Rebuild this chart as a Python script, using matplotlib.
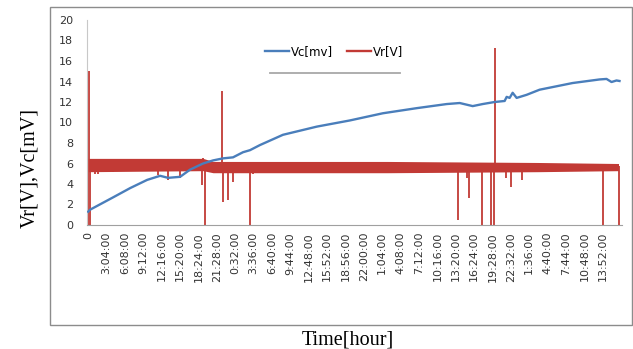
import matplotlib
matplotlib.use("Agg")
import matplotlib.pyplot as plt
from matplotlib.patches import Rectangle

# Vc [mV], time in minutes from start
vc_t = [0, 20, 250, 420, 590, 720, 800, 920, 1020, 1150, 1250, 1350, 1450, 1550,
        1620, 1720, 1950, 2290, 2620, 2950, 3290, 3590, 3720, 3850, 3950, 4070,
        4170, 4190, 4220, 4250, 4290, 4390, 4520, 4850, 5120, 5190, 5240, 5290, 5320]
vc_v = [1.3, 1.5, 2.7, 3.6, 4.4, 4.8, 4.6, 4.7, 5.4, 6.0, 6.3, 6.5, 6.6, 7.1,
        7.3, 7.8, 8.8, 9.6, 10.2, 10.9, 11.4, 11.8, 11.9, 11.6, 11.8, 12.0,
        12.1, 12.5, 12.4, 12.9, 12.4, 12.7, 13.2, 13.85, 14.2, 14.25, 13.95, 14.1, 14.05]

# Vr [V]: noisy band (low / high envelope) plus isolated spikes
band_t = [0, 1150, 1250, 3000, 4500, 5310]
band_lo = [5.2, 5.3, 5.1, 5.1, 5.2, 5.3]
band_hi = [6.5, 6.5, 6.2, 6.2, 6.1, 6.0]

spike_t = [0, 10, 20, 70, 100, 250, 700, 800, 800, 920, 1140, 1150, 1170, 1340,
           1350, 1400, 1450, 1620, 1650, 3700, 3790, 3810, 3940, 4030, 4060, 4070,
           4180, 4230, 4340, 5150, 5310]
spike_v = [0, 15.0, 0, 5.0, 5.0, 5.2, 4.9, 4.4, 6.4, 4.6, 3.9, 6.5, 0, 13.1,
           2.2, 2.4, 4.2, 0, 5.0, 0.5, 4.6, 2.6, 0, 0, 0, 17.3,
           4.6, 3.7, 4.4, 0, 0]

tick_step = 184
tick_labels = ["0", "3:04:00", "6:08:00", "9:12:00", "12:16:00", "15:20:00",
               "18:24:00", "21:28:00", "0:32:00", "3:36:00", "6:40:00", "9:44:00",
               "12:48:00", "15:52:00", "18:56:00", "22:00:00", "1:04:00", "4:08:00",
               "7:12:00", "10:16:00", "13:20:00", "16:24:00", "19:28:00", "22:32:00",
               "1:36:00", "4:40:00", "7:44:00", "10:48:00", "13:52:00"]

blue = "#4a7ebb"
red = "#c23a35"

fig = plt.figure(figsize=(6.33, 3.49), dpi=100)

# outer chart box
fig.patches.append(Rectangle((50 / 633, 1 - 325 / 349), 582 / 633, 318 / 349,
                             transform=fig.transFigure, fill=False,
                             edgecolor="#8c8c8c", linewidth=1.0))

ax = fig.add_axes([87 / 633, 1 - 225 / 349, 535 / 633, 205 / 349])

ax.fill_between(band_t, band_lo, band_hi, color=red, linewidth=0, zorder=2)
ax.vlines(spike_t, 5.8, spike_v, color=red, linewidth=1.3, zorder=2)
ax.plot(vc_t, vc_v, color=blue, linewidth=1.7, label="Vc[mv]", zorder=3)
ax.plot([], [], color=red, linewidth=1.7, label="Vr[V]")

ax.set_xlim(-12, 5345)
ax.set_ylim(0, 20)
ax.set_yticks(range(0, 21, 2))
ax.set_xticks([i * tick_step for i in range(len(tick_labels))])
ax.set_xticklabels(tick_labels, rotation=90)
ax.tick_params(axis="y", length=0, pad=10, labelsize=8, labelcolor="#333333")
ax.tick_params(axis="x", length=0, pad=5, labelsize=8, labelcolor="#333333")

for s in ["top", "right"]:
    ax.spines[s].set_visible(False)
ax.spines["left"].set_color("#c8c8c8")
ax.spines["bottom"].set_color("#a0a0a0")

leg = ax.legend(loc="center", bbox_to_anchor=(0.462, 0.844), ncol=2, frameon=False,
                fontsize=8.5, handlelength=2.0, handletextpad=0.2, columnspacing=1.2)
# soft shadow line under the legend
ax.plot([0.342, 0.585], [0.741, 0.741], transform=ax.transAxes,
        color="#a8a8a8", linewidth=1.3)

fig.text(30 / 633, 1 - 168 / 349, "Vr[V],Vc[mV]", rotation=90, ha="center",
         va="center", family="Liberation Serif", fontsize=14.5)
fig.text(348 / 633, 1 - 340 / 349, "Time[hour]", ha="center", va="center",
         family="Liberation Serif", fontsize=14.5)

fig.savefig("out.png", dpi=100)
